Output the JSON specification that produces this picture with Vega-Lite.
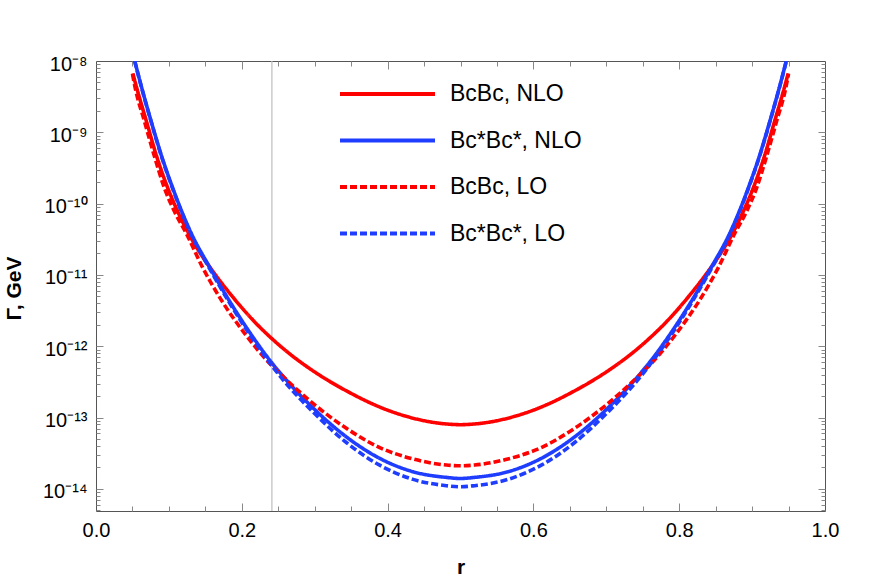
{
  "$schema": "https://vega.github.io/schema/vega-lite/v6.json",
  "width": 729,
  "height": 450,
  "autosize": {"type": "none"},
  "padding": {"left": 96, "top": 61, "right": 47, "bottom": 66},
  "background": "white",
  "config": {
    "view": {"stroke": "#555555", "strokeWidth": 1},
    "font": "Liberation Sans",
    "axis": {"grid": false, "labelFont": "Liberation Sans", "titleFont": "Liberation Sans", "labelColor": "black", "titleColor": "black"}
  },
  "data": {"values": [
    {"s": "BcBc, NLO", "r": 0.0505, "g": 6.71e-9},
    {"s": "BcBc, NLO", "r": 0.056, "g": 4.14e-9},
    {"s": "BcBc, NLO", "r": 0.0693, "g": 1.41e-9},
    {"s": "BcBc, NLO", "r": 0.0826, "g": 4.81e-10},
    {"s": "BcBc, NLO", "r": 0.0986, "g": 1.64e-10},
    {"s": "BcBc, NLO", "r": 0.1123, "g": 7.69e-11},
    {"s": "BcBc, NLO", "r": 0.126, "g": 3.98e-11},
    {"s": "BcBc, NLO", "r": 0.145, "g": 1.88e-11},
    {"s": "BcBc, NLO", "r": 0.1627, "g": 1.04e-11},
    {"s": "BcBc, NLO", "r": 0.1901, "g": 4.57e-12},
    {"s": "BcBc, NLO", "r": 0.2176, "g": 2.20e-12},
    {"s": "BcBc, NLO", "r": 0.2409, "g": 1.29e-12},
    {"s": "BcBc, NLO", "r": 0.2656, "g": 7.85e-13},
    {"s": "BcBc, NLO", "r": 0.2931, "g": 4.87e-13},
    {"s": "BcBc, NLO", "r": 0.3205, "g": 3.22e-13},
    {"s": "BcBc, NLO", "r": 0.348, "g": 2.24e-13},
    {"s": "BcBc, NLO", "r": 0.3755, "g": 1.62e-13},
    {"s": "BcBc, NLO", "r": 0.4029, "g": 1.24e-13},
    {"s": "BcBc, NLO", "r": 0.4304, "g": 1.01e-13},
    {"s": "BcBc, NLO", "r": 0.4578, "g": 8.73e-14},
    {"s": "BcBc, NLO", "r": 0.4852, "g": 8.07e-14},
    {"s": "BcBc, NLO", "r": 0.5, "g": 7.95e-14},
    {"s": "BcBc, NLO", "r": 0.5148, "g": 8.07e-14},
    {"s": "BcBc, NLO", "r": 0.5422, "g": 8.73e-14},
    {"s": "BcBc, NLO", "r": 0.5696, "g": 1.01e-13},
    {"s": "BcBc, NLO", "r": 0.5971, "g": 1.24e-13},
    {"s": "BcBc, NLO", "r": 0.6245, "g": 1.62e-13},
    {"s": "BcBc, NLO", "r": 0.652, "g": 2.24e-13},
    {"s": "BcBc, NLO", "r": 0.6795, "g": 3.22e-13},
    {"s": "BcBc, NLO", "r": 0.7069, "g": 4.87e-13},
    {"s": "BcBc, NLO", "r": 0.7344, "g": 7.85e-13},
    {"s": "BcBc, NLO", "r": 0.7591, "g": 1.29e-12},
    {"s": "BcBc, NLO", "r": 0.7824, "g": 2.20e-12},
    {"s": "BcBc, NLO", "r": 0.8099, "g": 4.57e-12},
    {"s": "BcBc, NLO", "r": 0.8373, "g": 1.04e-11},
    {"s": "BcBc, NLO", "r": 0.855, "g": 1.88e-11},
    {"s": "BcBc, NLO", "r": 0.874, "g": 3.98e-11},
    {"s": "BcBc, NLO", "r": 0.8877, "g": 7.69e-11},
    {"s": "BcBc, NLO", "r": 0.9014, "g": 1.64e-10},
    {"s": "BcBc, NLO", "r": 0.9174, "g": 4.81e-10},
    {"s": "BcBc, NLO", "r": 0.9307, "g": 1.41e-9},
    {"s": "BcBc, NLO", "r": 0.944, "g": 4.14e-9},
    {"s": "BcBc, NLO", "r": 0.9495, "g": 6.71e-9},

    {"s": "Bc*Bc*, NLO", "r": 0.0528, "g": 1.03e-8},
    {"s": "Bc*Bc*, NLO", "r": 0.0629, "g": 4.14e-9},
    {"s": "Bc*Bc*, NLO", "r": 0.0758, "g": 1.41e-9},
    {"s": "Bc*Bc*, NLO", "r": 0.0895, "g": 4.81e-10},
    {"s": "Bc*Bc*, NLO", "r": 0.1054, "g": 1.64e-10},
    {"s": "Bc*Bc*, NLO", "r": 0.1178, "g": 7.69e-11},
    {"s": "Bc*Bc*, NLO", "r": 0.1307, "g": 3.83e-11},
    {"s": "Bc*Bc*, NLO", "r": 0.1558, "g": 1.29e-11},
    {"s": "Bc*Bc*, NLO", "r": 0.1809, "g": 4.69e-12},
    {"s": "Bc*Bc*, NLO", "r": 0.207, "g": 1.79e-12},
    {"s": "Bc*Bc*, NLO", "r": 0.2405, "g": 5.98e-13},
    {"s": "Bc*Bc*, NLO", "r": 0.2519, "g": 4.31e-13},
    {"s": "Bc*Bc*, NLO", "r": 0.2793, "g": 2.11e-13},
    {"s": "Bc*Bc*, NLO", "r": 0.2976, "g": 1.37e-13},
    {"s": "Bc*Bc*, NLO", "r": 0.3434, "g": 5.37e-14},
    {"s": "Bc*Bc*, NLO", "r": 0.3892, "g": 2.68e-14},
    {"s": "Bc*Bc*, NLO", "r": 0.4349, "g": 1.74e-14},
    {"s": "Bc*Bc*, NLO", "r": 0.4807, "g": 1.45e-14},
    {"s": "Bc*Bc*, NLO", "r": 0.5, "g": 1.40e-14},
    {"s": "Bc*Bc*, NLO", "r": 0.5193, "g": 1.45e-14},
    {"s": "Bc*Bc*, NLO", "r": 0.5651, "g": 1.74e-14},
    {"s": "Bc*Bc*, NLO", "r": 0.6108, "g": 2.68e-14},
    {"s": "Bc*Bc*, NLO", "r": 0.6566, "g": 5.37e-14},
    {"s": "Bc*Bc*, NLO", "r": 0.7024, "g": 1.37e-13},
    {"s": "Bc*Bc*, NLO", "r": 0.7207, "g": 2.11e-13},
    {"s": "Bc*Bc*, NLO", "r": 0.7481, "g": 4.31e-13},
    {"s": "Bc*Bc*, NLO", "r": 0.7595, "g": 5.98e-13},
    {"s": "Bc*Bc*, NLO", "r": 0.793, "g": 1.79e-12},
    {"s": "Bc*Bc*, NLO", "r": 0.8191, "g": 4.69e-12},
    {"s": "Bc*Bc*, NLO", "r": 0.8442, "g": 1.29e-11},
    {"s": "Bc*Bc*, NLO", "r": 0.8693, "g": 3.83e-11},
    {"s": "Bc*Bc*, NLO", "r": 0.8822, "g": 7.69e-11},
    {"s": "Bc*Bc*, NLO", "r": 0.8946, "g": 1.64e-10},
    {"s": "Bc*Bc*, NLO", "r": 0.9105, "g": 4.81e-10},
    {"s": "Bc*Bc*, NLO", "r": 0.9242, "g": 1.41e-9},
    {"s": "Bc*Bc*, NLO", "r": 0.9371, "g": 4.14e-9},
    {"s": "Bc*Bc*, NLO", "r": 0.9472, "g": 1.03e-8},

    {"s": "BcBc, LO", "r": 0.05, "g": 6.61e-9},
    {"s": "BcBc, LO", "r": 0.0539, "g": 4.14e-9},
    {"s": "BcBc, LO", "r": 0.0666, "g": 1.41e-9},
    {"s": "BcBc, LO", "r": 0.0796, "g": 4.81e-10},
    {"s": "BcBc, LO", "r": 0.094, "g": 1.64e-10},
    {"s": "BcBc, LO", "r": 0.1078, "g": 7.69e-11},
    {"s": "BcBc, LO", "r": 0.1238, "g": 3.83e-11},
    {"s": "BcBc, LO", "r": 0.1458, "g": 1.30e-11},
    {"s": "BcBc, LO", "r": 0.1719, "g": 4.45e-12},
    {"s": "BcBc, LO", "r": 0.2038, "g": 1.52e-12},
    {"s": "BcBc, LO", "r": 0.2427, "g": 5.15e-13},
    {"s": "BcBc, LO", "r": 0.2519, "g": 4.17e-13},
    {"s": "BcBc, LO", "r": 0.2793, "g": 2.29e-13},
    {"s": "BcBc, LO", "r": 0.2976, "g": 1.58e-13},
    {"s": "BcBc, LO", "r": 0.3434, "g": 7.08e-14},
    {"s": "BcBc, LO", "r": 0.3892, "g": 3.80e-14},
    {"s": "BcBc, LO", "r": 0.4349, "g": 2.63e-14},
    {"s": "BcBc, LO", "r": 0.4807, "g": 2.16e-14},
    {"s": "BcBc, LO", "r": 0.5, "g": 2.11e-14},
    {"s": "BcBc, LO", "r": 0.5193, "g": 2.16e-14},
    {"s": "BcBc, LO", "r": 0.5651, "g": 2.63e-14},
    {"s": "BcBc, LO", "r": 0.6108, "g": 3.80e-14},
    {"s": "BcBc, LO", "r": 0.6566, "g": 7.08e-14},
    {"s": "BcBc, LO", "r": 0.7024, "g": 1.58e-13},
    {"s": "BcBc, LO", "r": 0.7207, "g": 2.29e-13},
    {"s": "BcBc, LO", "r": 0.7481, "g": 4.17e-13},
    {"s": "BcBc, LO", "r": 0.7573, "g": 5.15e-13},
    {"s": "BcBc, LO", "r": 0.7962, "g": 1.52e-12},
    {"s": "BcBc, LO", "r": 0.8281, "g": 4.45e-12},
    {"s": "BcBc, LO", "r": 0.8542, "g": 1.30e-11},
    {"s": "BcBc, LO", "r": 0.8762, "g": 3.83e-11},
    {"s": "BcBc, LO", "r": 0.8922, "g": 7.69e-11},
    {"s": "BcBc, LO", "r": 0.906, "g": 1.64e-10},
    {"s": "BcBc, LO", "r": 0.9204, "g": 4.81e-10},
    {"s": "BcBc, LO", "r": 0.9334, "g": 1.41e-9},
    {"s": "BcBc, LO", "r": 0.9461, "g": 4.14e-9},
    {"s": "BcBc, LO", "r": 0.95, "g": 6.61e-9},

    {"s": "Bc*Bc*, LO", "r": 0.0528, "g": 1.02e-8},
    {"s": "Bc*Bc*, LO", "r": 0.0629, "g": 4.09e-9},
    {"s": "Bc*Bc*, LO", "r": 0.0758, "g": 1.39e-9},
    {"s": "Bc*Bc*, LO", "r": 0.0895, "g": 4.70e-10},
    {"s": "Bc*Bc*, LO", "r": 0.1054, "g": 1.60e-10},
    {"s": "Bc*Bc*, LO", "r": 0.1178, "g": 7.45e-11},
    {"s": "Bc*Bc*, LO", "r": 0.1307, "g": 3.69e-11},
    {"s": "Bc*Bc*, LO", "r": 0.1558, "g": 1.23e-11},
    {"s": "Bc*Bc*, LO", "r": 0.1809, "g": 4.43e-12},
    {"s": "Bc*Bc*, LO", "r": 0.207, "g": 1.67e-12},
    {"s": "Bc*Bc*, LO", "r": 0.2405, "g": 5.46e-13},
    {"s": "Bc*Bc*, LO", "r": 0.2519, "g": 3.88e-13},
    {"s": "Bc*Bc*, LO", "r": 0.2793, "g": 1.86e-13},
    {"s": "Bc*Bc*, LO", "r": 0.2976, "g": 1.20e-13},
    {"s": "Bc*Bc*, LO", "r": 0.3434, "g": 4.47e-14},
    {"s": "Bc*Bc*, LO", "r": 0.3892, "g": 2.15e-14},
    {"s": "Bc*Bc*, LO", "r": 0.4349, "g": 1.36e-14},
    {"s": "Bc*Bc*, LO", "r": 0.4807, "g": 1.11e-14},
    {"s": "Bc*Bc*, LO", "r": 0.5, "g": 1.07e-14},
    {"s": "Bc*Bc*, LO", "r": 0.5193, "g": 1.11e-14},
    {"s": "Bc*Bc*, LO", "r": 0.5651, "g": 1.36e-14},
    {"s": "Bc*Bc*, LO", "r": 0.6108, "g": 2.15e-14},
    {"s": "Bc*Bc*, LO", "r": 0.6566, "g": 4.47e-14},
    {"s": "Bc*Bc*, LO", "r": 0.7024, "g": 1.20e-13},
    {"s": "Bc*Bc*, LO", "r": 0.7207, "g": 1.86e-13},
    {"s": "Bc*Bc*, LO", "r": 0.7481, "g": 3.88e-13},
    {"s": "Bc*Bc*, LO", "r": 0.7595, "g": 5.46e-13},
    {"s": "Bc*Bc*, LO", "r": 0.793, "g": 1.67e-12},
    {"s": "Bc*Bc*, LO", "r": 0.8191, "g": 4.43e-12},
    {"s": "Bc*Bc*, LO", "r": 0.8442, "g": 1.23e-11},
    {"s": "Bc*Bc*, LO", "r": 0.8693, "g": 3.69e-11},
    {"s": "Bc*Bc*, LO", "r": 0.8822, "g": 7.45e-11},
    {"s": "Bc*Bc*, LO", "r": 0.8946, "g": 1.60e-10},
    {"s": "Bc*Bc*, LO", "r": 0.9105, "g": 4.70e-10},
    {"s": "Bc*Bc*, LO", "r": 0.9242, "g": 1.39e-9},
    {"s": "Bc*Bc*, LO", "r": 0.9371, "g": 4.09e-9},
    {"s": "Bc*Bc*, LO", "r": 0.9472, "g": 1.02e-8}
  ]},
  "resolve": {"axis": {"x": "independent", "y": "independent"}},
  "layer": [
    {
      "data": {"values": [{"rv": 0.2413}]},
      "mark": {"type": "rule", "color": "#bdbdbd", "strokeWidth": 1.2},
      "encoding": {
        "x": {
          "field": "rv", "type": "quantitative",
          "scale": {"domain": [0, 1], "nice": false, "zero": false},
          "axis": {
            "orient": "bottom", "values": [0, 0.2, 0.4, 0.6, 0.8, 1.0], "format": ".1f",
            "ticks": false, "domain": false, "labelFontSize": 20, "labelPadding": 9, "labelFlush": false,
            "title": "r", "titleFontSize": 21, "titleFontWeight": "bold",
            "titleX": 364.5, "titleY": 62, "titleBaseline": "alphabetic", "titleAlign": "center"
          }
        }
      }
    },
    {
      "mark": {"type": "line", "strokeWidth": 3.6, "clip": true, "interpolate": "monotone"},
      "encoding": {
        "x": {
          "field": "r", "type": "quantitative",
          "axis": {
            "orient": "bottom", "labels": false, "domain": false, "title": null, "zindex": 1,
            "values": [0.05, 0.1, 0.15, 0.2, 0.25, 0.3, 0.35, 0.4, 0.45, 0.5, 0.55, 0.6, 0.65, 0.7, 0.75, 0.8, 0.85, 0.9, 0.95],
            "tickColor": "#888888", "tickWidth": 1,
            "tickSize": {"condition": {"test": "abs(datum.value*5 - round(datum.value*5)) < 0.001", "value": -8}, "value": -5}
          }
        },
        "y": {
          "field": "g", "type": "quantitative",
          "scale": {"type": "log", "domain": [4.9e-15, 1e-8], "nice": false},
          "axis": {
            "orient": "left", "values": [1e-14, 1e-13, 1e-12, 1e-11, 1e-10, 1e-9, 1e-8],
            "labelExpr": "datum.value > 5e-9 ? '10⁻⁸' : datum.value > 5e-10 ? '10⁻⁹' : datum.value > 5e-11 ? '10⁻¹⁰' : datum.value > 5e-12 ? '10⁻¹¹' : datum.value > 5e-13 ? '10⁻¹²' : datum.value > 5e-14 ? '10⁻¹³' : '10⁻¹⁴'",
            "ticks": false, "domain": false, "labelFontSize": 20, "labelPadding": 9, "labelOffset": 3,
            "title": "Γ, GeV", "titleFontSize": 21, "titleFontWeight": "bold",
            "titleX": -82, "titleY": 227, "titleAngle": -90, "titleBaseline": "middle", "titleAlign": "center"
          }
        },
        "color": {
          "field": "s", "type": "nominal",
          "scale": {"domain": ["BcBc, NLO", "Bc*Bc*, NLO", "BcBc, LO", "Bc*Bc*, LO"], "range": ["#ff0000", "#1f3dff", "#ff0000", "#1f3dff"]},
          "legend": {"title": null, "orient": "none", "legendX": 242, "legendY": 18, "symbolType": "stroke", "symbolSize": 9025, "symbolStrokeWidth": 4, "labelFontSize": 23, "labelFont": "Liberation Sans", "labelOffset": 13, "clipHeight": 30, "rowPadding": 16.5, "labelLimit": 0, "padding": 0}
        },
        "strokeDash": {
          "field": "s", "type": "nominal",
          "scale": {"domain": ["BcBc, NLO", "Bc*Bc*, NLO", "BcBc, LO", "Bc*Bc*, LO"], "range": [[1, 0], [1, 0], [7, 3], [7, 3]]},
          "legend": {"title": null, "orient": "none", "legendX": 242, "legendY": 18, "symbolType": "stroke", "symbolSize": 9025, "symbolStrokeWidth": 4, "labelFontSize": 23, "labelFont": "Liberation Sans", "labelOffset": 13, "clipHeight": 30, "rowPadding": 16.5, "labelLimit": 0, "padding": 0}
        }
      }
    },
    {
      "mark": {"type": "line", "strokeOpacity": 0},
      "encoding": {
        "detail": {"field": "s"},
        "x": {
          "field": "r", "type": "quantitative",
          "axis": {
            "orient": "top", "labels": false, "domain": false, "title": null, "zindex": 1,
            "values": [0.05, 0.1, 0.15, 0.2, 0.25, 0.3, 0.35, 0.4, 0.45, 0.5, 0.55, 0.6, 0.65, 0.7, 0.75, 0.8, 0.85, 0.9, 0.95],
            "tickColor": "#888888", "tickWidth": 1,
            "tickSize": {"condition": {"test": "abs(datum.value*5 - round(datum.value*5)) < 0.001", "value": -8}, "value": -5}
          }
        },
        "y": {
          "field": "g", "type": "quantitative",
          "axis": {
            "orient": "left", "labels": false, "domain": false, "title": null, "zindex": 1,
            "values": [5e-15, 6e-15, 7e-15, 8e-15, 9e-15, 1e-14, 2e-14, 3e-14, 4e-14, 5e-14, 6e-14, 7e-14, 8e-14, 9e-14, 1e-13, 2e-13, 3e-13, 4e-13, 5e-13, 6e-13, 7e-13, 8e-13, 9e-13, 1e-12, 2e-12, 3e-12, 4e-12, 5e-12, 6e-12, 7e-12, 8e-12, 9e-12, 1e-11, 2e-11, 3e-11, 4e-11, 5e-11, 6e-11, 7e-11, 8e-11, 9e-11, 1e-10, 2e-10, 3e-10, 4e-10, 5e-10, 6e-10, 7e-10, 8e-10, 9e-10, 1e-9, 2e-9, 3e-9, 4e-9, 5e-9, 6e-9, 7e-9, 8e-9, 9e-9],
            "tickColor": "#888888", "tickWidth": 1,
            "tickSize": {"condition": {"test": "abs(log(datum.value)/LN10 - round(log(datum.value)/LN10)) < 0.001", "value": -7}, "value": -4}
          }
        }
      }
    },
    {
      "mark": {"type": "line", "strokeOpacity": 0},
      "encoding": {
        "detail": {"field": "s"},
        "x": {"field": "r", "type": "quantitative", "axis": null},
        "y": {
          "field": "g", "type": "quantitative",
          "axis": {
            "orient": "right", "labels": false, "domain": false, "title": null, "zindex": 1,
            "values": [5e-15, 6e-15, 7e-15, 8e-15, 9e-15, 1e-14, 2e-14, 3e-14, 4e-14, 5e-14, 6e-14, 7e-14, 8e-14, 9e-14, 1e-13, 2e-13, 3e-13, 4e-13, 5e-13, 6e-13, 7e-13, 8e-13, 9e-13, 1e-12, 2e-12, 3e-12, 4e-12, 5e-12, 6e-12, 7e-12, 8e-12, 9e-12, 1e-11, 2e-11, 3e-11, 4e-11, 5e-11, 6e-11, 7e-11, 8e-11, 9e-11, 1e-10, 2e-10, 3e-10, 4e-10, 5e-10, 6e-10, 7e-10, 8e-10, 9e-10, 1e-9, 2e-9, 3e-9, 4e-9, 5e-9, 6e-9, 7e-9, 8e-9, 9e-9],
            "tickColor": "#888888", "tickWidth": 1,
            "tickSize": {"condition": {"test": "abs(log(datum.value)/LN10 - round(log(datum.value)/LN10)) < 0.001", "value": -7}, "value": -4}
          }
        }
      }
    }
  ]
}
